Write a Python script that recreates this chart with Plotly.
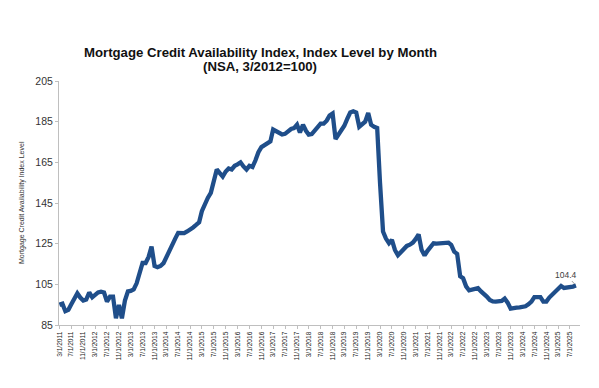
import pandas as pd
import plotly.graph_objects as go

# Monthly MCAI values, 3/2011 .. 9/2025
vals_2011 = [95.0, 95.5, 91.8, 92.5, 95.2, 98.5, 100.6, 98.5, 97.0, 97.5]
vals_2012 = [101.0, 98.6, 100.0, 101.0, 101.4, 101.0, 96.5, 99.0, 99.0, 88.3, 94.8, 88.3]
vals_2013 = [97.0, 101.5, 101.8, 102.5, 105.5, 110.5, 115.5, 115.5, 118.5, 123.6, 114.0, 113.4]
vals_2014 = [114.0, 115.4, 118.5, 122.0, 125.0, 127.5, 130.3, 130.5, 130.2, 131.0, 131.8, 133.0]
vals_2015 = [134.2, 135.5, 141.0, 144.5, 147.5, 150.0, 155.0, 161.5, 159.7, 158.0, 160.5, 162.0]
vals_2016 = [161.5, 163.3, 164.0, 165.0, 163.0, 161.5, 163.3, 162.7, 166.0, 170.0, 172.5, 173.5]
vals_2017 = [174.5, 175.3, 181.1, 180.2, 179.0, 178.7, 179.0, 180.2, 181.4, 181.8, 183.5, 179.7]
vals_2018 = [183.5, 180.5, 178.6, 178.9, 180.5, 182.0, 184.0, 184.0, 185.5, 188.0, 189.0, 176.5]
vals_2019 = [178.6, 181.0, 183.0, 186.5, 189.5, 190.1, 189.5, 182.5, 183.5, 185.0, 189.3, 183.5]
vals_2020 = [182.5, 181.9, 155.0, 131.0, 127.5, 125.2, 126.9, 121.9, 119.3, 121.0, 122.0, 123.9]
vals_2021 = [124.5, 125.5, 127.2, 129.5, 122.0, 119.2, 121.5, 123.6, 125.2, 125.0, 125.2, 125.0]
vals_2022 = [125.5, 125.5, 124.4, 121.1, 120.0, 109.0, 108.0, 104.0, 102.0, 102.5, 103.1, 103.1]
vals_2023 = [101.5, 100.4, 99.0, 97.3, 96.6, 96.5, 96.5, 96.8, 98.0, 96.0, 93.0, 93.0]
vals_2024 = [93.5, 93.7, 93.7, 94.2, 95.2, 96.5, 98.7, 98.9, 98.7, 96.5, 96.5, 98.5]
vals_2025 = [100.0, 101.3, 102.5, 104.2, 103.2, 103.3, 103.5, 103.9, 104.4]

values = (vals_2011 + vals_2012 + vals_2013 + vals_2014 + vals_2015 + vals_2016 + vals_2017
          + vals_2018 + vals_2019 + vals_2020 + vals_2021 + vals_2022 + vals_2023 + vals_2024 + vals_2025)
dates = pd.date_range("2011-03-01", periods=len(values), freq="MS")

y_ticks = [85, 105, 125, 145, 165, 185, 205]
title_line1 = "Mortgage Credit Availability Index, Index Level by Month"
title_line2 = "(NSA, 3/2012=100)"
y_title = "Mortgage Credit Availability Index Level"
last_label = "104.4"

FONT = "Liberation Sans, Arial, sans-serif"
# The page body keeps its default 8px margin, so the figure is drawn 8px
# right/down of the window origin; sizes below compensate for that offset.
OFF = 8
W, H = 599 - OFF, 388 - OFF
L, R, T, B = 59 - OFF, 19, 81 - OFF, 63
PW, PH = W - L - R, H - T - B


def px_x(x):  # window x -> paper x
    return (x - OFF - L) / PW


def px_y(y):  # window y -> paper y
    return 1 - (y - OFF - T) / PH


fig = go.Figure()
fig.add_trace(go.Scatter(x=dates, y=values, mode="lines",
                         line=dict(color="#1F4E8A", width=4.3),
                         hoverinfo="skip", showlegend=False))

fig.update_layout(
    width=W, height=H,
    margin=dict(l=L, r=R, t=T, b=B, autoexpand=False),
    paper_bgcolor="white", plot_bgcolor="white",
    font=dict(family=FONT, color="#333333"),
    showlegend=False,
)
fig.update_xaxes(
    type="date", automargin=False,
    range=["2011-02-25", "2025-10-12"],
    tick0="2011-03-01", dtick="M4",
    tickformat="%-m/%-d/%Y",
    tickangle=-90,
    tickfont=dict(size=6.6, color="#222222"),
    ticks="outside", ticklen=3, tickcolor="#BFBFBF",
    showline=True, linecolor="#BFBFBF", linewidth=1,
    showgrid=False, zeroline=False,
)
fig.update_yaxes(
    automargin=False,
    range=[85, 205],
    tickvals=y_ticks,
    tickfont=dict(size=10.5, color="#333333"),
    ticks="outside", ticklen=3, tickcolor="#BFBFBF",
    showline=True, linecolor="#BFBFBF", linewidth=1,
    showgrid=False, zeroline=False,
)

ann = [
    dict(text="<b>" + title_line1 + "</b>", xref="paper", yref="paper",
         x=px_x(260), y=px_y(52.5),
         xanchor="center", yanchor="middle", showarrow=False,
         font=dict(size=13.2, color="#111111", family=FONT)),
    dict(text="<b>" + title_line2 + "</b>", xref="paper", yref="paper",
         x=px_x(260), y=px_y(66.5),
         xanchor="center", yanchor="middle", showarrow=False,
         font=dict(size=13.2, color="#111111", family=FONT)),
    dict(text=y_title, xref="paper", yref="paper",
         x=px_x(22), y=0.5, textangle=-90,
         xanchor="center", yanchor="middle", showarrow=False,
         font=dict(size=7, color="#333333", family=FONT)),
    dict(text=last_label, x=dates[-1], y=values[-1], xref="x", yref="y",
         showarrow=True, arrowhead=0, arrowwidth=0.8, arrowcolor="#808080",
         ax=-10, ay=-11, standoff=2,
         font=dict(size=8.5, color="#404040", family=FONT)),
]
fig.update_layout(annotations=ann)

fig.write_html("out.html")
